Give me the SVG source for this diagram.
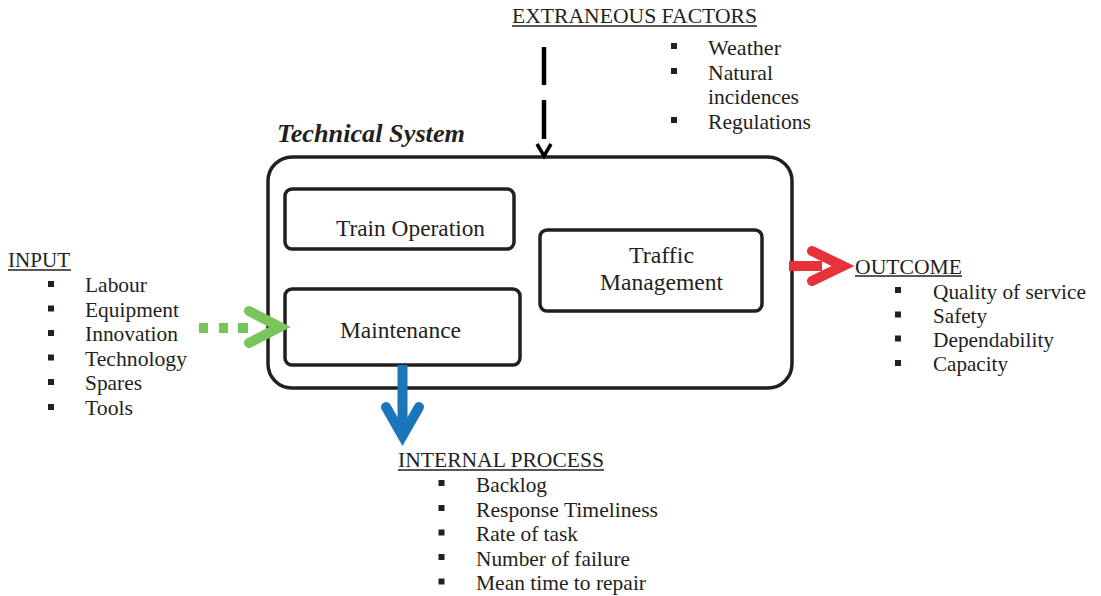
<svg xmlns="http://www.w3.org/2000/svg" width="1101" height="596" viewBox="0 0 1101 596">
<style>
  text { font-family: "Liberation Serif", "DejaVu Serif", serif; fill: #231f20; }
  .lbl { font-size: 21px; }
  .box { font-size: 23px; text-anchor: middle; }
  .title { font-size: 26px; font-weight: bold; font-style: italic; }
  .node { fill: #ffffff; stroke: #231f20; stroke-width: 3.5; }
  .ul { stroke: #231f20; stroke-width: 1.5; }
  .bul { fill: #231f20; }
</style>
<rect width="1101" height="596" fill="#ffffff"/>

<g id="technical-system">
  <rect class="node" x="268" y="157" width="524" height="231" rx="24"/>
  <text class="title" x="277" y="142" textLength="188" lengthAdjust="spacingAndGlyphs">Technical System</text>
</g>

<g id="train-operation">
  <rect class="node" x="285" y="189" width="229" height="60" rx="7"/>
  <text class="box" x="410.5" y="236" textLength="149" lengthAdjust="spacingAndGlyphs">Train Operation</text>
</g>

<g id="maintenance">
  <rect class="node" x="285" y="289" width="235" height="76" rx="7"/>
  <text class="box" x="400.5" y="338" textLength="121" lengthAdjust="spacingAndGlyphs">Maintenance</text>
</g>

<g id="traffic-management">
  <rect class="node" x="540" y="230" width="222" height="81" rx="7"/>
  <text class="box" x="661.5" y="263" textLength="65" lengthAdjust="spacingAndGlyphs">Traffic</text>
  <text class="box" x="661.5" y="290" textLength="123" lengthAdjust="spacingAndGlyphs">Management</text>
</g>

<g id="extraneous-factors">
  <text class="lbl" x="512" y="23" textLength="245" lengthAdjust="spacingAndGlyphs">EXTRANEOUS FACTORS</text>
  <line class="ul" x1="512" y1="26" x2="757" y2="26"/>
  <rect class="bul" x="671" y="43" width="6" height="6"/>
  <text class="lbl" x="708" y="54.5" textLength="73" lengthAdjust="spacingAndGlyphs">Weather</text>
  <rect class="bul" x="671" y="68" width="6" height="6"/>
  <text class="lbl" x="708" y="79.5" textLength="65" lengthAdjust="spacingAndGlyphs">Natural</text>
  <text class="lbl" x="708" y="104" textLength="91" lengthAdjust="spacingAndGlyphs">incidences</text>
  <rect class="bul" x="671" y="117" width="6" height="6"/>
  <text class="lbl" x="708" y="128.5" textLength="103" lengthAdjust="spacingAndGlyphs">Regulations</text>
</g>

<g id="input">
  <text class="lbl" x="8" y="267" textLength="62" lengthAdjust="spacingAndGlyphs">INPUT</text>
  <line class="ul" x1="8" y1="270" x2="71" y2="270"/>
  <rect class="bul" x="48" y="281" width="6" height="6"/>
  <text class="lbl" x="85" y="292" textLength="62" lengthAdjust="spacingAndGlyphs">Labour</text>
  <rect class="bul" x="48" y="305.5" width="6" height="6"/>
  <text class="lbl" x="85" y="316.5" textLength="94" lengthAdjust="spacingAndGlyphs">Equipment</text>
  <rect class="bul" x="48" y="330" width="6" height="6"/>
  <text class="lbl" x="85" y="341" textLength="93" lengthAdjust="spacingAndGlyphs">Innovation</text>
  <rect class="bul" x="48" y="354.5" width="6" height="6"/>
  <text class="lbl" x="85" y="365.5" textLength="102" lengthAdjust="spacingAndGlyphs">Technology</text>
  <rect class="bul" x="48" y="379" width="6" height="6"/>
  <text class="lbl" x="85" y="390" textLength="57" lengthAdjust="spacingAndGlyphs">Spares</text>
  <rect class="bul" x="48" y="404" width="6" height="6"/>
  <text class="lbl" x="85" y="415" textLength="48" lengthAdjust="spacingAndGlyphs">Tools</text>
</g>

<g id="outcome">
  <text class="lbl" x="855" y="273.5" textLength="107" lengthAdjust="spacingAndGlyphs">OUTCOME</text>
  <line class="ul" x1="855" y1="276" x2="962" y2="276"/>
  <rect class="bul" x="895" y="287" width="6" height="6"/>
  <text class="lbl" x="933" y="298.5" textLength="153" lengthAdjust="spacingAndGlyphs">Quality of service</text>
  <rect class="bul" x="895" y="311.5" width="6" height="6"/>
  <text class="lbl" x="933" y="322.5" textLength="54" lengthAdjust="spacingAndGlyphs">Safety</text>
  <rect class="bul" x="895" y="335.5" width="6" height="6"/>
  <text class="lbl" x="933" y="347" textLength="121" lengthAdjust="spacingAndGlyphs">Dependability</text>
  <rect class="bul" x="895" y="360" width="6" height="6"/>
  <text class="lbl" x="933" y="371" textLength="75" lengthAdjust="spacingAndGlyphs">Capacity</text>
</g>

<g id="internal-process">
  <text class="lbl" x="398" y="467" textLength="206" lengthAdjust="spacingAndGlyphs">INTERNAL PROCESS</text>
  <line class="ul" x1="398" y1="470" x2="604" y2="470"/>
  <rect class="bul" x="438.5" y="480" width="6" height="6"/>
  <text class="lbl" x="476" y="491.5" textLength="71" lengthAdjust="spacingAndGlyphs">Backlog</text>
  <rect class="bul" x="438.5" y="505" width="6" height="6"/>
  <text class="lbl" x="476" y="516.5" textLength="182" lengthAdjust="spacingAndGlyphs">Response Timeliness</text>
  <rect class="bul" x="438.5" y="529.5" width="6" height="6"/>
  <text class="lbl" x="476" y="541" textLength="102" lengthAdjust="spacingAndGlyphs">Rate of task</text>
  <rect class="bul" x="438.5" y="554" width="6" height="6"/>
  <text class="lbl" x="476" y="565.5" textLength="154" lengthAdjust="spacingAndGlyphs">Number of failure</text>
  <rect class="bul" x="438.5" y="578.5" width="6" height="6"/>
  <text class="lbl" x="476" y="590" textLength="170" lengthAdjust="spacingAndGlyphs">Mean time to repair</text>
</g>

<g id="connectors">
  <!-- extraneous factors: dashed black arrow down -->
  <line x1="544" y1="47" x2="544" y2="85" stroke="#000000" stroke-width="4.5"/>
  <line x1="544" y1="100" x2="544" y2="139" stroke="#000000" stroke-width="4.5"/>
  <polyline points="537,144 544,156 551,144" fill="none" stroke="#000000" stroke-width="3.5" stroke-linejoin="miter"/>
  <!-- input: green dotted arrow -->
  <rect x="199" y="323" width="9" height="10" fill="#7ac55b"/>
  <rect x="219" y="323" width="9" height="10" fill="#7ac55b"/>
  <rect x="238" y="323" width="10" height="10" fill="#7ac55b"/>
  <polyline points="249,311 280,327 249,343" fill="none" stroke="#7ac55b" stroke-width="10" stroke-linecap="round" stroke-linejoin="miter"/>
  <!-- outcome: red arrow -->
  <rect x="789" y="261" width="33" height="10" fill="#e8323a"/>
  <polyline points="812,251 843,266 812,281" fill="none" stroke="#e8323a" stroke-width="10" stroke-linecap="round" stroke-linejoin="miter"/>
  <!-- internal process: blue arrow -->
  <rect x="397.5" y="365" width="10" height="68" fill="#1b75bb"/>
  <polyline points="386,407 402.5,436 419,407" fill="none" stroke="#1b75bb" stroke-width="10" stroke-linecap="round" stroke-linejoin="miter"/>
</g>
</svg>
